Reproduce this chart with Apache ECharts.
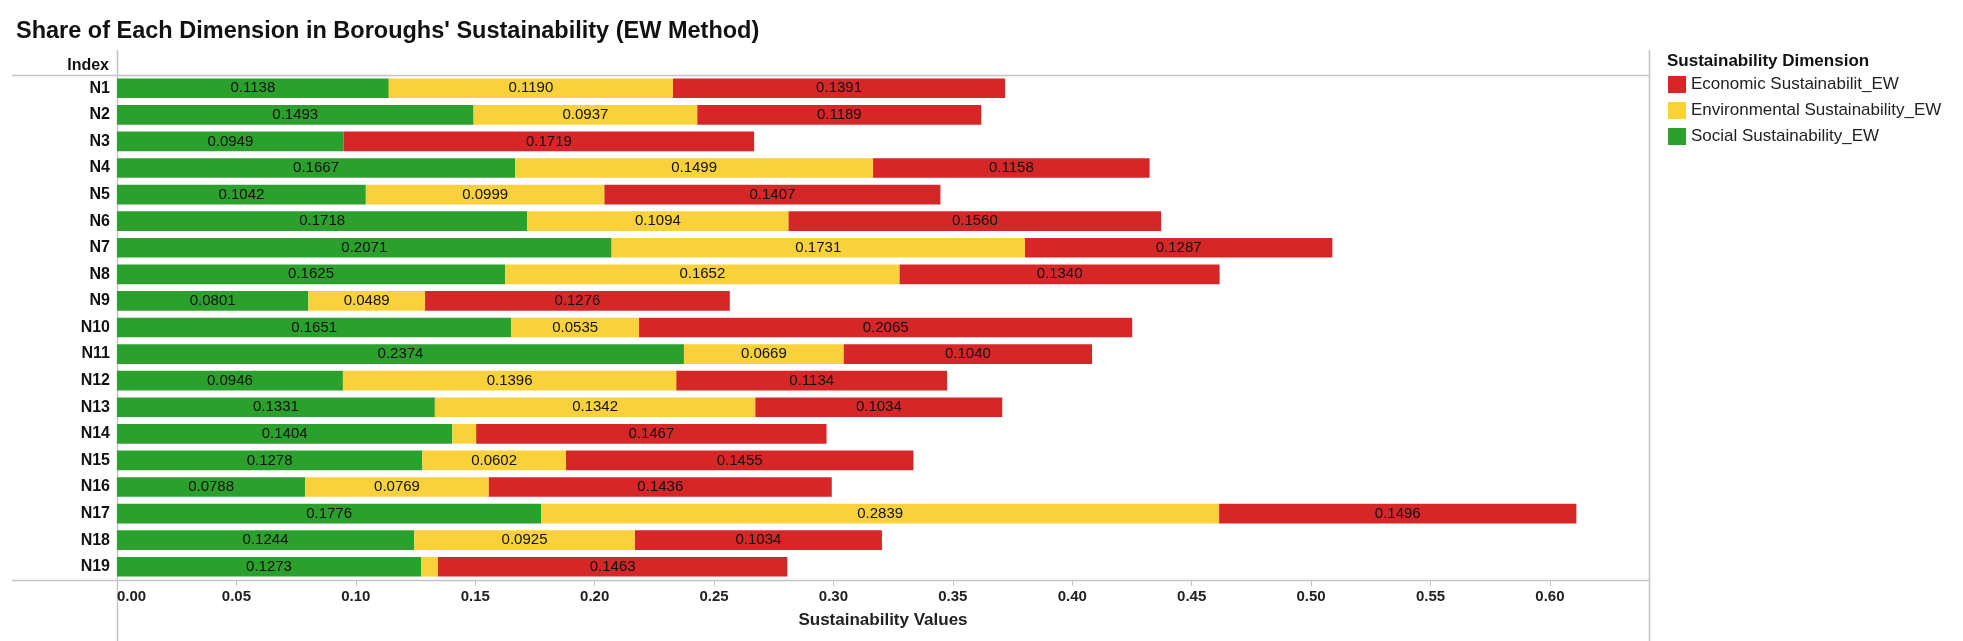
<!DOCTYPE html>
<html>
<head>
<meta charset="utf-8">
<script src="https://cdn.jsdelivr.net/npm/echarts@6/dist/echarts.min.js"></script>
<style>
html,body{margin:0;padding:0;background:#fff;}
#chart{width:1963px;height:641px;}
</style>
</head>
<body>
<div id="chart"></div>
<script>
const categories = ['N1','N2','N3','N4','N5','N6','N7','N8','N9','N10','N11','N12','N13','N14','N15','N16','N17','N18','N19'];
const socialValues = [0.1138,0.1493,0.0949,0.1667,0.1042,0.1718,0.2071,0.1625,0.0801,0.1651,0.2374,0.0946,0.1331,0.1404,0.1278,0.0788,0.1776,0.1244,0.1273];
const environmentalValues = [0.1190,0.0937,0,0.1499,0.0999,0.1094,0.1731,0.1652,0.0489,0.0535,0.0669,0.1396,0.1342,0.0100,0.0602,0.0769,0.2839,0.0925,0.0071];
const economicValues = [0.1391,0.1189,0.1719,0.1158,0.1407,0.1560,0.1287,0.1340,0.1276,0.2065,0.1040,0.1134,0.1034,0.1467,0.1455,0.1436,0.1496,0.1034,0.1463];
const tickValues = [0,0.05,0.10,0.15,0.20,0.25,0.30,0.35,0.40,0.45,0.50,0.55,0.60];
const seriesNames = ['Economic Sustainabilit_EW','Environmental Sustainability_EW','Social Sustainability_EW'];

const FONT = "'Liberation Sans', Arial, sans-serif";
const W = 1963, H = 641;
const GL = 117, GR = 1649, GT = 75, GB = 580;
const LINE = '#c4c4c4';

const chart = echarts.init(document.getElementById('chart'), null, {renderer:'canvas'});

const labelCfg = {
  show: true,
  position: 'inside',
  color: '#111',
  fontFamily: FONT,
  fontSize: 15,
  formatter: p => (p.value >= 0.025 ? p.value.toFixed(4) : '')
};

function barSeries(name, data, color) {
  return {
    name: name,
    type: 'bar',
    stack: 'total',
    data: data,
    barCategoryGap: '26%',
    itemStyle: {color: color},
    label: labelCfg,
    emphasis: {disabled: true}
  };
}

const option = {
  animation: false,
  backgroundColor: '#fff',
  title: {
    text: "Share of Each Dimension in Boroughs' Sustainability (EW Method)",
    left: 11, top: 15,
    textStyle: {fontFamily: FONT, fontSize: 23.5, fontWeight: 'bold', color: '#111'}
  },
  legend: {
    orient: 'vertical',
    left: 1663, top: 71,
    data: seriesNames,
    icon: 'rect',
    itemWidth: 18, itemHeight: 17, itemGap: 9,
    textStyle: {fontFamily: FONT, fontSize: 17, color: '#222'}
  },
  grid: {left: GL, right: W - GR, top: GT, bottom: H - GB, containLabel: false},
  xAxis: {
    type: 'value',
    min: 0, max: 0.6415,
    name: 'Sustainability Values',
    nameLocation: 'middle',
    nameGap: 32,
    nameTextStyle: {fontFamily: FONT, fontSize: 17, fontWeight: 'bold', color: '#222'},
    axisLine: {show: false},
    axisTick: {show: true, length: 6, lineStyle: {color: LINE}, customValues: tickValues},
    axisLabel: {
      fontFamily: FONT, fontSize: 15, fontWeight: 'bold', color: '#222', margin: 9,
      customValues: tickValues,
      alignMinLabel: 'left',
      formatter: v => v.toFixed(2)
    },
    splitLine: {show: false}
  },
  yAxis: {
    type: 'category',
    data: categories,
    inverse: true,
    axisLine: {show: false},
    axisTick: {show: false},
    axisLabel: {fontFamily: FONT, fontSize: 16, fontWeight: 'bold', color: '#111', margin: 7}
  },
  graphic: [
    {type:'line', shape:{x1:12, y1:GT + 0.5, x2:GR, y2:GT + 0.5}, style:{stroke:LINE, lineWidth:1.5}, silent:true},
    {type:'line', shape:{x1:12, y1:GB + 0.5, x2:GR, y2:GB + 0.5}, style:{stroke:LINE, lineWidth:1.5}, silent:true},
    {type:'line', shape:{x1:GL + 0.5, y1:50, x2:GL + 0.5, y2:H}, style:{stroke:LINE, lineWidth:1.5}, silent:true},
    {type:'line', shape:{x1:GR + 0.5, y1:50, x2:GR + 0.5, y2:H}, style:{stroke:LINE, lineWidth:1.5}, silent:true},
    {type:'text', x: GL - 8, y: 66, style:{text:'Index', align:'right', verticalAlign:'middle', fontFamily:FONT, fontSize:16, fontWeight:'bold', fill:'#111'}, silent:true},
    {type:'text', x: 1667, y: 61, style:{text:'Sustainability Dimension', align:'left', verticalAlign:'middle', fontFamily:FONT, fontSize:17, fontWeight:'bold', fill:'#111'}, silent:true}
  ],
  series: [
    barSeries(seriesNames[2], socialValues, '#2ca02c'),
    barSeries(seriesNames[1], environmentalValues, '#f9d13b'),
    barSeries(seriesNames[0], economicValues, '#d62728')
  ]
};

chart.setOption(option);
</script>
</body>
</html>
